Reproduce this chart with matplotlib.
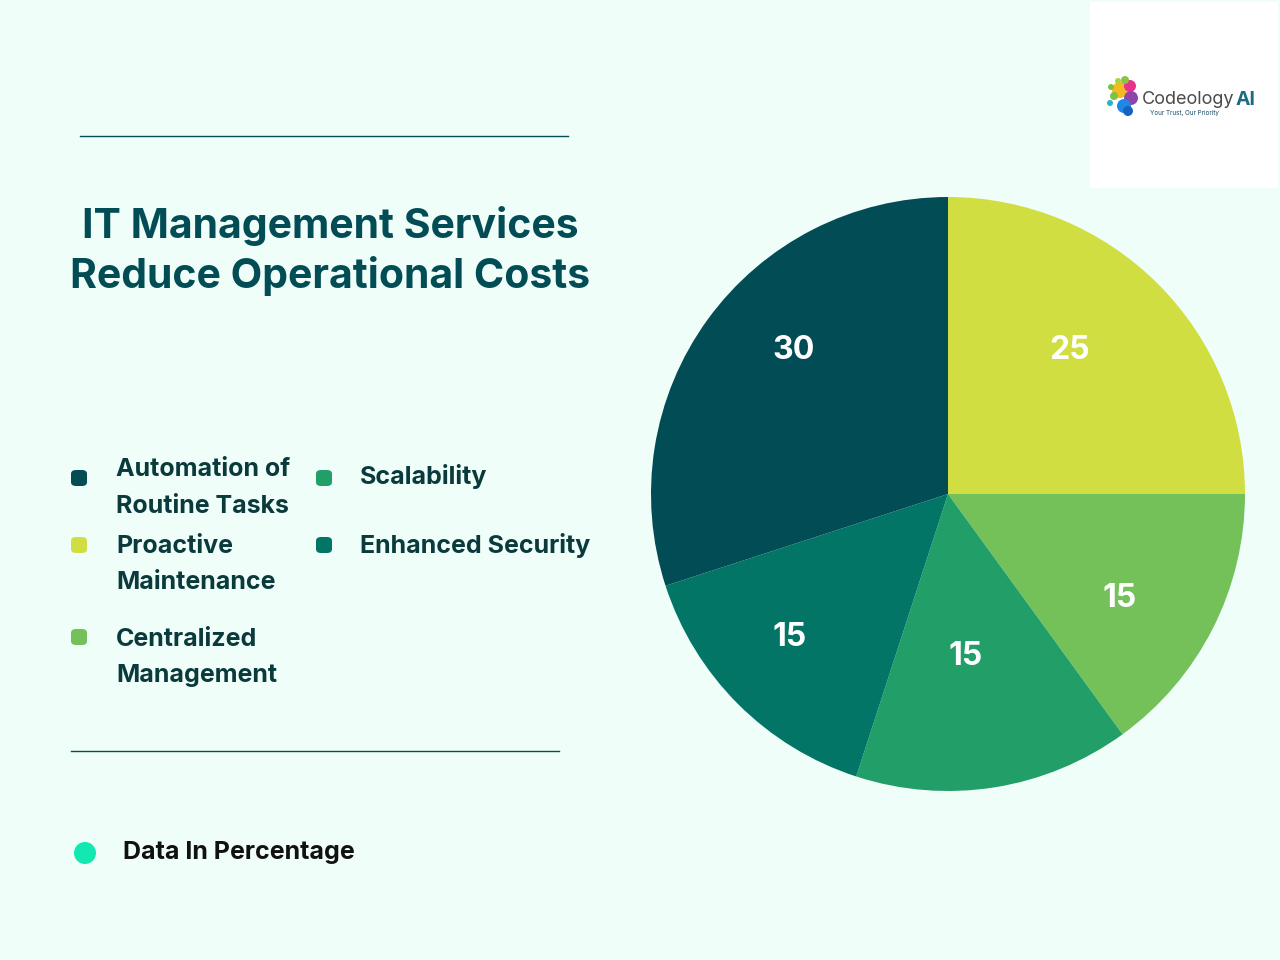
import numpy as np
import matplotlib.pyplot as plt
from matplotlib.patches import FancyBboxPatch, Ellipse, Rectangle

# data, clockwise from 12 o'clock
categories = ["Proactive Maintenance", "Centralized Management", "Scalability",
              "Enhanced Security", "Automation of Routine Tasks"]
values = [25, 15, 15, 15, 30]
colors = ["#D0DE42", "#74C15A", "#229E69", "#037567", "#024D55"]

# where the value labels sit inside each wedge (fraction of radius, degrees off the mid angle)
label_dist = [0.635, 0.677, 0.552, 0.72, 0.712]
label_shift = [4.7, -4.2, -2.7, -2.7, -6.9]

# legend layout (text with manual breaks as in the picture)
legend_order = [4, 0, 1, 2, 3]
legend_text = {0: "Proactive\nMaintenance", 1: "Centralized\nManagement", 2: "Scalability",
               3: "Enhanced Security", 4: "Automation of\nRoutine Tasks"}
legend_marker = {4: (79, 478), 0: (79, 545), 1: (79, 637), 2: (324, 478), 3: (324, 545)}
legend_label = {4: (116, 488), 0: (116, 564.5), 1: (116, 657.5), 2: (360, 477), 3: (360, 545)}

title = "IT Management Services\nReduce Operational Costs"
note = "Data In Percentage"

W, H = 1280, 960
BG = "#EFFEF9"
DARK = "#024D55"
FONT = ["Inter", "DejaVu Sans"]


def fx(x):
    return x / W


def fy(y):
    return 1 - y / H


def dot(x, y, r, c):
    fig.add_artist(Ellipse((fx(x), fy(y)), 2 * r / W, 2 * r / H, transform=fig.transFigure,
                           facecolor=c, edgecolor="none"))


fig = plt.figure(figsize=(12.8, 9.6), dpi=100, facecolor=BG)

# pie
cx, cy, r = 948, 494, 297
ax = fig.add_axes([fx(cx - r), fy(cy + r), 2 * r / W, 2 * r / H])
ax.set_facecolor("none")
wedges, _ = ax.pie(values, colors=colors, startangle=90, counterclock=False,
                   wedgeprops=dict(linewidth=0))
for w, v, d, s in zip(wedges, values, label_dist, label_shift):
    a = np.deg2rad((w.theta1 + w.theta2) / 2 + s)
    ax.text(d * np.cos(a), d * np.sin(a), f"{v}", ha="center", va="center",
            color="white", fontsize=23, fontweight="bold", family=FONT)
ax.set_xlim(-1, 1)
ax.set_ylim(-1, 1)

# title and rules
fig.add_artist(plt.Line2D([fx(80), fx(568)], [fy(136), fy(136)], color=DARK, lw=1))
fig.add_artist(plt.Line2D([fx(71), fx(559)], [fy(751), fy(751)], color=DARK, lw=1))
fig.text(fx(330), fy(251), title, ha="center", va="center", multialignment="center",
         fontsize=29.5, fontweight="bold", color=DARK, family=FONT, linespacing=1.32)

# legend
for i in legend_order:
    mx, my = legend_marker[i]
    s = 16
    fig.add_artist(FancyBboxPatch((fx(mx - s / 2), fy(my + s / 2)), s / W, s / H,
                                  boxstyle="round,pad=0,rounding_size=0.004",
                                  transform=fig.transFigure, facecolor=colors[i],
                                  edgecolor="none"))
    tx, ty = legend_label[i]
    fig.text(fx(tx), fy(ty), legend_text[i], ha="left", va="center", fontsize=18,
             fontweight="bold", color="#0B3A3C", family=FONT, linespacing=1.76)

# note
dot(85, 853, 11, "#12E8B0")
fig.text(fx(123), fy(853), note, ha="left", va="center", fontsize=18,
         fontweight="bold", color="#111111", family=FONT)

# logo box
fig.add_artist(Rectangle((fx(1090), fy(188)), 188 / W, 186 / H, transform=fig.transFigure,
                         facecolor="white", edgecolor="none"))
for x, y, rr, c in [(1120, 90, 8, "#F5B921"), (1130, 86, 6, "#E7338A"),
                    (1131, 98, 7, "#8E44AD"), (1124, 106, 7, "#1E88E5"),
                    (1128, 111, 5, "#1565C0"), (1114, 96, 4, "#7DC242"),
                    (1111, 87, 3, "#7DC242"), (1110, 103, 3, "#26B5C4"),
                    (1118, 81, 3, "#A5D63F"), (1125, 80, 4, "#8BC34A")]:
    dot(x, y, rr, c)
fig.text(fx(1142), fy(100), "Codeology", ha="left", va="center", fontsize=13,
         color="#4A4A4A", family=FONT)
fig.text(fx(1236), fy(100), "AI", ha="left", va="center", fontsize=14,
         fontweight="bold", color="#1B6C80", family=FONT)
fig.text(fx(1150), fy(113), "Your Trust, Our Priority", ha="left", va="center",
         fontsize=4.5, color="#1B4C6C", family=FONT)

fig.savefig("out.png", dpi=100, facecolor=BG)
